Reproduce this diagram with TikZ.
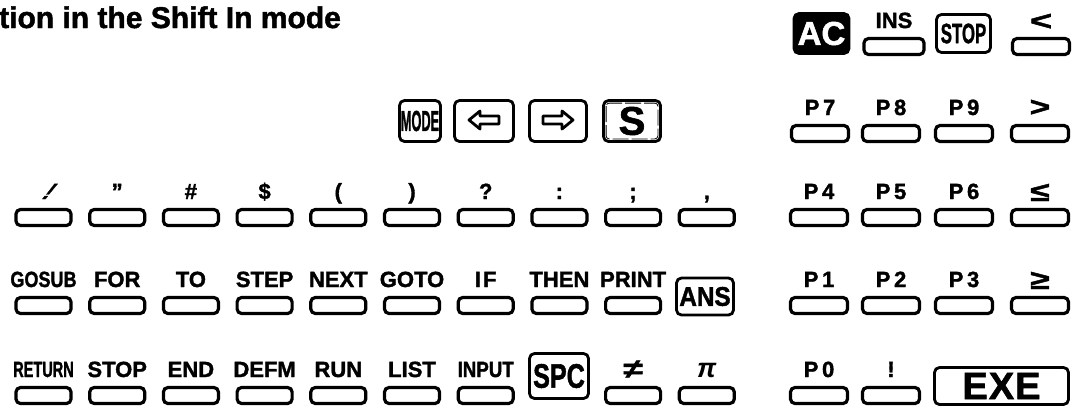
\documentclass[tikz,border=0pt]{standalone}
\usepackage{fontspec}
\setmainfont{Liberation Sans}[BoldFeatures={FakeBold=1.6}]
\usepackage{graphicx}
\usetikzlibrary{calc}
\newcommand\kb[5]{%
  \node[key, minimum width=#4] (#1) at (#2,#3+9.5) {};
  \node[lab] (#1t) at (#2,#3-9) {#5};}
\newcommand\cnd[2]{\scalebox{#1}[1]{#2}}
\begin{document}
\begin{tikzpicture}[x=1pt,y=-1pt,
  key/.style={draw, line width=3.2pt, rounded corners=4.5pt, minimum height=16pt, inner sep=0pt},
  lab/.style={font=\fontsize{22}{22}\selectfont\bfseries, anchor=base, inner sep=0pt},
  sym/.style={font=\fontsize{27}{27}\selectfont\bfseries, anchor=base, inner sep=0pt},
  box/.style={draw, line width=2.8pt, rounded corners=5pt, inner sep=0pt},
  arr/.style={line width=2.8pt, line join=round}
]
\useasboundingbox (0,0) rectangle (1084,408);
% title
\node[anchor=base west, inner sep=0pt, font=\fontsize{30}{30}\selectfont\bfseries] (title) at (-1,28) {tion in the Shift In mode};

% ---------- top right row
\node[box, fill=black, text=white, minimum width=55pt, minimum height=40pt,
  font=\fontsize{33}{33}\selectfont\bfseries] (ac) at (821.5,33.5) {AC};
\kb{ins}{894}{37}{60pt}{INS}
\node[box, minimum width=54pt, minimum height=38pt,
  font=\fontsize{28}{28}\selectfont\bfseries] (stop) at (963.5,33.5) {\cnd{0.6}{STOP}};
\node[key, minimum width=57pt] (lt) at (1041,46.5) {};
\node[sym] (ltt) at (1041,30) {\cnd{1.4}{<}};

% ---------- row 2
\node[box, minimum width=41pt, minimum height=41pt,
  font=\fontsize{29}{29}\selectfont\bfseries] (mode) at (420,121) {\cnd{0.44}{MODE}};
\node[box, minimum width=59pt, minimum height=41pt] (larr) at (484,121) {};
\node[box, minimum width=57pt, minimum height=41pt] (rarr) at (558,121) {};
\node[box, minimum width=57pt, minimum height=41pt,
  font=\fontsize{40}{40}\selectfont\bfseries] (sbox) at (632,121) {S};
\draw[arr, shift={(larr.center)}] (-15,-1) -- (-4,-10) -- (-4,-5) -- (15,-5) -- (15,3) -- (-4,3) -- (-4,8) -- cycle;
\draw[arr, shift={(rarr.center)}] (15,-1) -- (4,-10) -- (4,-5) -- (-15,-5) -- (-15,3) -- (4,3) -- (4,8) -- cycle;
\draw[line width=0.8pt, rounded corners=3pt, dash pattern=on 16pt off 3pt]
  ($(sbox.north west)+(4,4)$) rectangle ($(sbox.south east)+(-4,-4)$);

\kb{p7}{820}{124}{57pt}{P\,7}
\kb{p8}{891}{124}{57pt}{P\,8}
\kb{p9}{964}{124}{57pt}{P\,9}
\node[key, minimum width=57pt] (gt) at (1040,133.5) {};
\node[sym] (gtt) at (1040,116) {\cnd{1.3}{>}};

% ---------- row 3
\node[key, minimum width=55pt] (c0) at (43.5,217.5) {};
\node[lab, xslant=0.8, transform shape] (c0t) at (44,199) {!};
\kb{c1}{117.2}{208}{55pt}{”}
\kb{c2}{190.9}{208}{55pt}{\#}
\kb{c3}{264.6}{208}{55pt}{\$}
\kb{c4}{338.3}{208}{55pt}{(}
\kb{c5}{412}{208}{55pt}{)}
\kb{c6}{485.7}{208}{55pt}{?}
\kb{c7}{559.4}{208}{55pt}{:}
\kb{c8}{633.1}{208}{55pt}{;}
\kb{c9}{706.8}{208}{55pt}{,}
\kb{p4}{819}{208}{57pt}{P\,4}
\kb{p5}{891}{208}{57pt}{P\,5}
\kb{p6}{964}{208}{57pt}{P\,6}
\node[key, minimum width=57pt] (le) at (1040,217.5) {};
\node[sym] (let) at (1040,201) {\cnd{1.3}{≤}};

% ---------- row 4
\kb{d0}{43.5}{296}{55pt}{\cnd{0.82}{GOSUB}}
\kb{d1}{117.2}{296}{55pt}{FOR}
\kb{d2}{190.9}{296}{55pt}{TO}
\kb{d3}{264.6}{296}{55pt}{STEP}
\kb{d4}{338.3}{296}{55pt}{NEXT}
\kb{d5}{412}{296}{55pt}{GOTO}
\kb{d6}{485.7}{296}{55pt}{I\kern2pt F}
\kb{d7}{559.4}{296}{55pt}{THEN}
\kb{d8}{633.1}{296}{55pt}{PRINT}
\node[box, minimum width=57pt, minimum height=37pt,
  font=\fontsize{27}{27}\selectfont\bfseries] (ans) at (705,296.5) {\cnd{0.9}{ANS}};
\kb{p1}{819}{296}{57pt}{P\,1}
\kb{p2}{891}{296}{57pt}{P\,2}
\kb{p3}{964}{296}{57pt}{P\,3}
\node[key, minimum width=57pt] (ge) at (1040,305.5) {};
\node[sym] (get) at (1040,289) {\cnd{1.3}{≥}};

% ---------- row 5
\kb{e0}{43.5}{386}{55pt}{\cnd{0.66}{RETURN}}
\kb{e1}{117.2}{386}{55pt}{STOP}
\kb{e2}{190.9}{386}{55pt}{END}
\kb{e3}{264.6}{386}{55pt}{DEFM}
\kb{e4}{338.3}{386}{55pt}{RUN}
\kb{e5}{412}{386}{55pt}{LIST}
\kb{e6}{485.7}{386}{55pt}{\cnd{0.85}{INPUT}}
\node[box, minimum width=59pt, minimum height=45pt,
  font=\fontsize{34}{34}\selectfont\bfseries] (spc) at (559,376) {\cnd{0.74}{SPC}};
\node[key, minimum width=55pt] (e8) at (633.1,395.5) {};
\node[sym] (e8t) at (633.1,378) {\cnd{1.3}{≠}};
\node[key, minimum width=55pt] (e9) at (706.8,395.5) {};
\node[sym, font=\fontsize{27}{27}\selectfont\bfseries\itshape] (e9t) at (706.8,377) {π};
\kb{p0}{819}{386}{57pt}{P\,0}
\kb{ex}{891}{386}{57pt}{!}
\node[box, minimum width=134pt, minimum height=37pt,
  font=\fontsize{38}{38}\selectfont\bfseries] (exe) at (1001.5,386) {E\kern1pt X\kern1pt E};
\end{tikzpicture}
\end{document}
